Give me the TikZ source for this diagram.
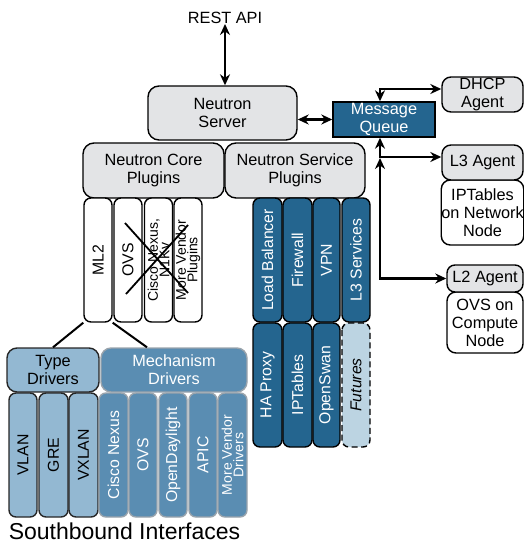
\documentclass[tikz,border=0pt]{standalone}
\usepackage{fontspec}
\setmainfont{Liberation Sans}
\usetikzlibrary{arrows.meta,calc}
\definecolor{dkb}{HTML}{24658F}
\definecolor{mdb}{HTML}{5A8DB2}
\definecolor{ltb}{HTML}{93B8D2}
\definecolor{fut}{HTML}{BCD4E2}
\definecolor{gbox}{HTML}{E3E4E6}
\definecolor{mbord}{HTML}{9AA4AC}
\begin{document}
\begin{tikzpicture}[x=1pt,y=-1pt,
  every node/.style={font=\fontsize{16.3}{18}\selectfont, align=center, inner sep=0pt},
  graybox/.style={draw, fill=gbox, rounded corners=11pt, line width=1.4pt},
  whitebox/.style={draw, fill=white, rounded corners=9pt, line width=1.4pt},
  col/.style={draw, rotate=90, rounded corners=7pt, minimum width=124pt, minimum height=28pt, line width=1.4pt, font=\fontsize{15.8}{18}\selectfont},
  wcol/.style={col, fill=white},
  dcol/.style={col, fill=dkb, text=white},
  mcol/.style={col, fill=mdb, draw=mbord, text=white},
  lcol/.style={col, fill=ltb, draw=black!85},
  small/.style={font=\fontsize{14}{11.5}\selectfont},
  conn/.style={line width=2.2pt, >={Stealth[length=11pt,width=10pt]}},
  thin/.style={line width=2pt}
]
\useasboundingbox (0,0) rectangle (524,543);

% top
\node (rest) at (225,18) {REST API};
\node[graybox, minimum width=149pt, minimum height=54pt] (server) at (222.5,113) {Neutron\\Server};
\node[draw, fill=dkb, text=white, line width=1.4pt, minimum width=102pt, minimum height=35pt] (mq) at (384,119.5) {Message\\Queue};
\node[graybox, minimum width=141pt, minimum height=55pt] (core) at (153.5,170.5) {Neutron Core\\Plugins};
\node[graybox, minimum width=140pt, minimum height=55pt] (service) at (295,170.5) {Neutron Service\\Plugins};

% agents
\node[graybox, rounded corners=9pt, minimum width=81pt, minimum height=35pt] (dhcp) at (482.5,94.5) {DHCP\\Agent};
\node[whitebox, minimum width=81pt, minimum height=65pt] (iptn) at (482.5,212.5) {IPTables\\on Network\\Node};
\node[graybox, rounded corners=9pt, minimum width=81pt, minimum height=35pt] (l3) at (482.5,162.5) {L3 Agent};
\node[whitebox, minimum width=76pt, minimum height=61pt] (ovsc) at (485,322.5) {OVS on\\Compute\\Node};
\node[graybox, rounded corners=8pt, minimum width=76pt, minimum height=27pt] (l2) at (485,278.5) {L2 Agent};

% core plugin columns
\node[wcol] (ml2) at (98,260) {ML2};
\node[wcol] (ovs) at (128,260) {OVS};
\node[wcol, small] (cisco) at (158.5,260) {Cisco Nexus,\\N1Kv};
\node[wcol, small] (morev) at (188,260) {More Vendor\\Plugins};
\draw[line width=1.8pt] (125,223) -- (188,293) (188,225) -- (126,294);

% service plugin columns
\node[dcol, minimum height=29pt] (lb) at (267.5,260) {Load Balancer};
\node[dcol, minimum height=29pt] (fw) at (297.5,260) {Firewall};
\node[dcol, minimum height=27pt] (vpn) at (326.5,260) {VPN};
\node[dcol, minimum height=28pt] (l3s) at (356,260) {L3 Services};
\node[dcol, minimum height=29pt] (hap) at (267.5,385) {HA Proxy};
\node[dcol, minimum height=29pt] (ipt) at (297.5,385) {IPTables};
\node[dcol, minimum height=27pt] (osw) at (326.5,385) {OpenSwan};
\node[col, fill=fut, dash pattern=on 6pt off 3.5pt, minimum height=28pt, font=\fontsize{15.8}{18}\selectfont\itshape] (fut) at (356,385) {Futures};

% drivers
\node[draw=black!85, fill=ltb, rounded corners=10pt, line width=1.4pt, minimum width=92pt, minimum height=44pt] (type) at (53,370) {Type\\Drivers};
\node[draw=mbord, fill=mdb, text=white, rounded corners=10pt, line width=1.4pt, minimum width=146pt, minimum height=44pt] (mech) at (174,370) {Mechanism\\Drivers};
\node[lcol] (vlan) at (23,455) {VLAN};
\node[lcol, minimum height=29pt] (gre) at (53.5,455) {GRE};
\node[lcol, minimum height=29pt] (vxlan) at (83.5,455) {VXLAN};
\node[mcol, minimum height=29pt] (cn) at (113.5,455) {Cisco Nexus};
\node[mcol] (ovs2) at (143,455) {OVS};
\node[mcol] (odl) at (173,455) {OpenDaylight};
\node[mcol] (apic) at (203,455) {APIC};
\node[mcol, small, minimum height=29pt] (mvd) at (232.5,455) {More Vendor\\Drivers};

\node[font=\fontsize{23}{26}\selectfont, anchor=base] (sb) at (124.5,539) {Southbound Interfaces};

% connectors
\draw[thin] (ml2.north west) -- (type.north);
\draw[thin] (ml2.south west) -- ([xshift=-27pt]mech.north);

\draw[conn, <->] (rest.south) -- (rest.south |- server.north);
\draw[conn, <->] (mq.west) -- (mq.west -| server.east);
\draw[conn, <->] ([yshift=5.5pt]dhcp.west) -| ([xshift=-4pt]mq.north);
\draw[conn, <->] ([yshift=5.5pt]l3.west) -| ([xshift=-4pt]mq.south);
\coordinate (jn) at (380,158);
\draw[conn, <->] (l2.west) -| (jn);
\end{tikzpicture}
\end{document}
